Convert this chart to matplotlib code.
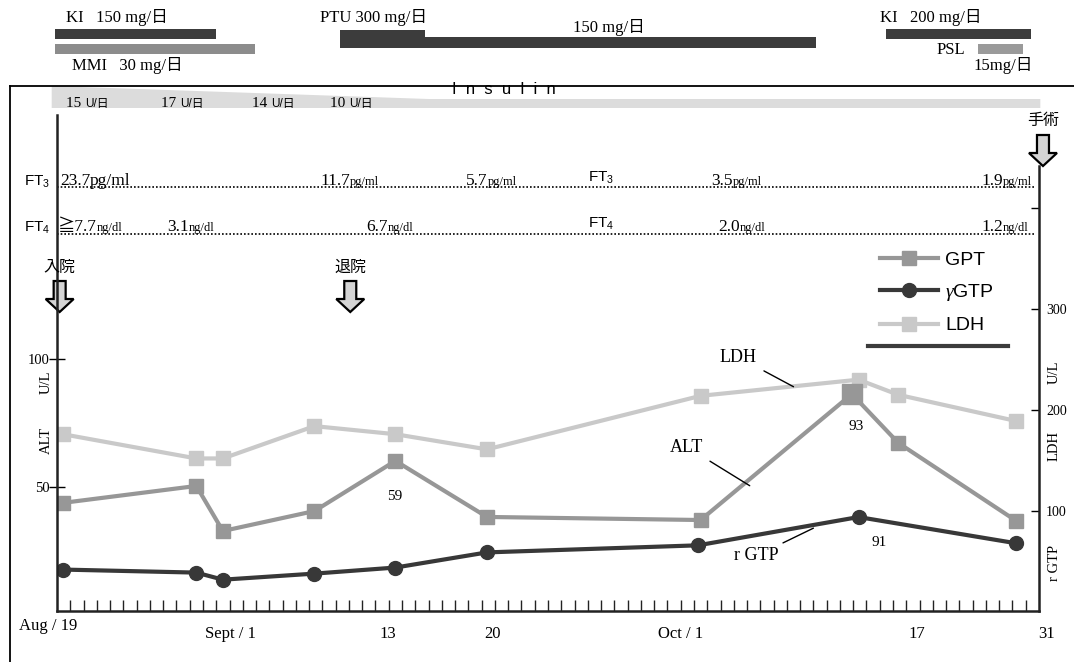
import matplotlib
matplotlib.use('Agg')
import matplotlib.pyplot as plt
from matplotlib import transforms
from matplotlib.patches import Polygon
from matplotlib.lines import Line2D

W, H = 1074, 662
SERIF = ['Liberation Serif', 'Noto Sans CJK JP']
SANS = ['Liberation Sans', 'Noto Sans CJK JP']
plt.rcParams['font.family'] = SERIF
plt.rcParams['mathtext.fontset'] = 'custom'
plt.rcParams['mathtext.rm'] = 'Liberation Sans'
plt.rcParams['mathtext.it'] = 'Liberation Serif:italic'

# days counted from Aug 19
gpt_days = [0.45, 10.5, 12.5, 19.4, 25.5, 32.4, 48.5, 59.9, 63.4, 72.3]
gpt = [43.8, 50.4, 32.8, 40.6, 60.2, 38.3, 37.1, 86.3, 67.2, 36.7]
ldh_days = [0.45, 10.5, 12.5, 19.4, 25.5, 32.4, 48.5, 60.4, 63.4, 72.3]
ldh = [176, 152, 152, 184, 176, 161, 214, 230, 215, 189]
gtp_days = [0.45, 10.5, 12.5, 19.4, 25.5, 32.4, 48.3, 60.4, 72.3]
gtp = [42, 39, 32, 38, 44, 59, 66, 94, 68]

date_labels = ['Aug / 19', 'Sept / 1', '13', '20', 'Oct / 1', '17', '31']
date_label_days = [-0.7, 13.1, 24.9, 32.8, 47.0, 64.8, 74.6]

# drug periods (start day, end day)
ki150 = (-0.15, 12.0)
mmi30 = (-0.15, 14.9)
ptu300 = (21.3, 27.7)
ptu150 = (27.7, 57.2)
ki200 = (62.5, 73.4)
psl15 = (69.4, 72.8)
insulin = (-0.4, 74.1)
insulin_doses = ['15', '17', '14', '10']
insulin_dose_days = [0.7, 7.8, 14.7, 20.6]

admit_day, discharge_day, surgery_day = 0.2, 22.1, 74.3

C_GPT = '#979797'
C_GTP = '#383838'
C_LDH = '#c9c9c9'
C_DARK = '#3c3c3c'


def fy(py):
    return 1 - py / H


def ftext(px, py, s, **kw):
    kw.setdefault('va', 'center')
    return fig.text(px / W, fy(py), s, **kw)


fig = plt.figure(figsize=(W / 100, H / 100), dpi=100)
renderer = fig.canvas.get_renderer()
ax = fig.add_axes([57 / W, fy(611), 982 / W, 496 / H])
ax2 = ax.twinx()
ax.set_xlim(0, 74)
ax.set_ylim(1.56, 195.3)
ax2.set_ylim(0.99, 492)
ax.set_zorder(ax2.get_zorder() + 1)
ax.patch.set_visible(False)

bt = transforms.blended_transform_factory(ax.transData, fig.transFigure)


def unit_after(t, s, size, family=SERIF):
    # put a smaller unit text on the same baseline right after t
    bb = t.get_window_extent(renderer=renderer)
    x, y = t.get_transform().transform(t.get_position())
    fig.text(bb.x1 / W, y / H, s, fontsize=size, va='baseline', ha='left', family=family)


# series
l_ldh, = ax2.plot(ldh_days, ldh, color=C_LDH, lw=3, marker='s', ms=10, zorder=2)
l_gtp, = ax2.plot(gtp_days, gtp, color=C_GTP, lw=3, marker='o', ms=10, zorder=3)
l_gpt, = ax.plot(gpt_days, gpt, color=C_GPT, lw=3, marker='s', ms=10, zorder=2)
ax.plot(gpt_days[7], gpt[7], marker='s', ms=14, color=C_GPT, zorder=3)

# axes styling
for s in ['top', 'right']:
    ax.spines[s].set_visible(False)
for s in ['top', 'left', 'bottom']:
    ax2.spines[s].set_visible(False)
for a in (ax, ax2):
    for s in a.spines.values():
        s.set_linewidth(1.8)
        s.set_color('#222222')
ax2.spines['right'].set_bounds(0.99, 442)

ax.set_xticks(range(1, 74))
ax.tick_params(axis='x', direction='in', length=8, width=1, color='#222222', labelbottom=False)
ax.set_yticks([50, 100])
ax.tick_params(axis='y', direction='inout', length=12, width=1, labelsize=10.5, pad=-1)
ax2.set_yticks([100, 200, 300, 400])
ax2.set_yticklabels(['100', '200', '300', ''])
ax2.tick_params(axis='y', direction='in', length=6, width=1, labelsize=10, pad=5)

for lab, d in zip(date_labels, date_label_days):
    yy = 626 if lab.startswith('Aug') else 634
    ax.text(d, fy(yy), lab, transform=bt, ha='center', va='center', fontsize=12)

# axis titles
ftext(46, 382, 'U/L', rotation=90, ha='center', fontsize=10.5)
ftext(46, 441, 'ALT', rotation=90, ha='center', fontsize=10.5)
ftext(1054, 372, 'U/L', rotation=90, ha='center', fontsize=10.5)
ftext(1054, 446, 'LDH', rotation=90, ha='center', fontsize=10.5)
ftext(1054, 563, 'r GTP', rotation=90, ha='center', fontsize=10.5)

# value labels
ftext(395, 496, '59', ha='center', fontsize=11)
ftext(856, 426, '93', ha='center', fontsize=11)
ftext(879, 542, '91', ha='center', fontsize=11)

# leader labels
ax2.annotate('LDH', xy=(55.5, 223), xytext=(738 / W, fy(357)), textcoords='figure fraction',
             ha='center', va='center', fontsize=13,
             arrowprops=dict(arrowstyle='-', lw=1, color='black', shrinkA=4, shrinkB=0))
ax.annotate('ALT', xy=(52.2, 50.5), xytext=(687 / W, fy(447)), textcoords='figure fraction',
            ha='center', va='center', fontsize=13,
            arrowprops=dict(arrowstyle='-', lw=1, color='black', shrinkA=4, shrinkB=0))
ax2.annotate('r GTP', xy=(57.0, 83), xytext=(756 / W, fy(556)), textcoords='figure fraction',
             ha='center', va='center', fontsize=13,
             arrowprops=dict(arrowstyle='-', lw=1, color='black', shrinkA=3, shrinkB=0))

# legend
leg = ax.legend([l_gpt, l_gtp, l_ldh], ['GPT', r'$\gamma$GTP', 'LDH'], loc='upper left',
                bbox_to_anchor=(880 / W, fy(251)), bbox_transform=fig.transFigure,
                frameon=False, handlelength=3.0, handletextpad=0.35, labelspacing=0.7,
                borderpad=0, borderaxespad=0, prop={'family': SANS, 'size': 14})
fig.add_artist(Line2D([868 / W, 1008 / W], [fy(346), fy(346)], color=C_DARK, lw=3))

# FT3 / FT4 rows
for py in (187, 234):
    ax.plot([0, 73.6], [fy(py)] * 2, transform=bt, color='black', lw=1.2, ls=(0, (1, 1.2)), clip_on=False)
ftext(24, 182, r'FT$_3$', fontsize=11, family=SANS)
ftext(24, 228, r'FT$_4$', fontsize=11, family=SANS)
ftext(588, 178, r'FT$_3$', fontsize=11, family=SANS)
ftext(588, 224, r'FT$_4$', fontsize=11, family=SANS)


def ft_value(px, py, num, unit, usize=9):
    t = ftext(px, py, num, fontsize=12.5, va='baseline')
    unit_after(t, unit, usize)


ft_value(60, 185, '23.7', 'pg/ml', usize=12.5)
ft_value(320, 185, '11.7', 'pg/ml')
ft_value(466, 185, '5.7', 'pg/ml')
ft_value(711, 185, '3.5', 'pg/ml')
ft_value(981, 185, '1.9', 'pg/ml')
ft_value(58, 231, '≧7.7', 'ng/dl')
ft_value(167, 231, '3.1', 'ng/dl')
ft_value(366, 231, '6.7', 'ng/dl')
ft_value(718, 231, '2.0', 'ng/dl')
ft_value(981, 231, '1.2', 'ng/dl')


# event arrows
def block_arrow(day, ytop, label):
    cx = ax.transData.transform((day, 0))[0]
    yt = H - ytop
    pts = [(cx - 6, yt), (cx + 6, yt), (cx + 6, yt - 18), (cx + 14, yt - 18),
           (cx, yt - 31), (cx - 14, yt - 18), (cx - 6, yt - 18)]
    fig.add_artist(Polygon(pts, closed=True, facecolor='#d4d4d4', edgecolor='black', lw=1.6,
                           transform=transforms.IdentityTransform()))
    fig.text(cx / W, fy(ytop - 14), label, ha='center', va='center', fontsize=11.5, family=SANS)


block_arrow(admit_day, 281, '入院')
block_arrow(discharge_day, 281, '退院')
block_arrow(surgery_day, 135, '手術')


# drug bars
def drug_bar(period, ytop, ybot, color):
    x0, x1 = period
    p = Polygon([(x0, fy(ytop)), (x1, fy(ytop)), (x1, fy(ybot)), (x0, fy(ybot))],
                closed=True, facecolor=color, edgecolor='none', transform=bt, clip_on=False)
    ax.add_artist(p)


drug_bar(ki150, 29, 39, C_DARK)
drug_bar(mmi30, 44, 54, '#8c8c8c')
drug_bar(ptu300, 30, 48, C_DARK)
drug_bar(ptu150, 37, 48, C_DARK)
drug_bar(ki200, 29, 39, C_DARK)
drug_bar(psl15, 44, 54, '#9a9a9a')

ftext(66, 18, 'KI   150 mg/日', fontsize=12)
ftext(72, 66, 'MMI   30 mg/日', fontsize=12)
ftext(320, 18, 'PTU 300 mg/日', fontsize=12)
ftext(573, 27, '150 mg/日', fontsize=12)
ftext(880, 18, 'KI   200 mg/日', fontsize=12)
ftext(937, 50, 'PSL', fontsize=12)
ftext(973, 65, '15mg/日', fontsize=12)

# insulin band
i0, i1 = insulin
ax.add_artist(Polygon([(i0, fy(86)), (28, fy(99)), (i1, fy(99)), (i1, fy(108)), (i0, fy(108))],
                      closed=True, facecolor='#dcdcdc', edgecolor='none', transform=bt,
                      clip_on=False, zorder=0))
ftext(452, 90, 'I  n  s  u  l  i  n', fontsize=12, family=SANS)
for dose, d in zip(insulin_doses, insulin_dose_days):
    t = ax.text(d, fy(107), dose + ' ', transform=bt, fontsize=11, va='baseline')
    unit_after(t, 'U/日', 8.5, family=SANS)

# outer frame (top and left edges)
fig.add_artist(Line2D([10 / W, 1], [fy(86), fy(86)], color='black', lw=1.3))
fig.add_artist(Line2D([10 / W, 10 / W], [fy(86), 0], color='black', lw=1.3))

fig.savefig('out.png', dpi=100)
